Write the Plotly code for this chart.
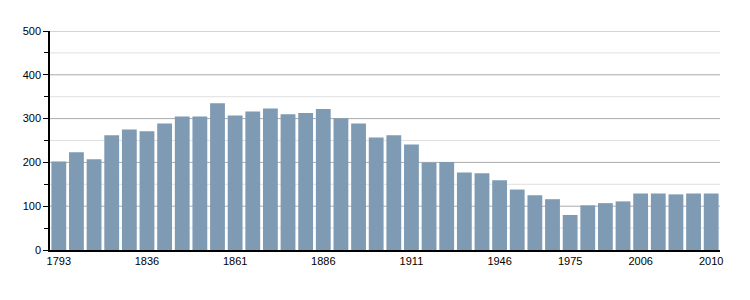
import plotly.graph_objects as go

years = [1793, 1800, 1806, 1821, 1831, 1836, 1841, 1846, 1851, 1856,
         1861, 1866, 1872, 1876, 1881, 1886, 1891, 1896, 1901, 1906,
         1911, 1921, 1926, 1931, 1936, 1946, 1954, 1962, 1968, 1975,
         1982, 1990, 1999, 2006, 2007, 2008, 2009, 2010]
population = [202, 223, 207, 262, 275, 271, 289, 305, 305, 335,
              307, 316, 323, 310, 313, 322, 301, 289, 257, 262,
              241, 200, 201, 177, 175, 159, 138, 125, 116, 80,
              102, 107, 111, 129, 129, 127, 129, 129]
labeled_years = [1793, 1836, 1861, 1886, 1911, 1946, 1975, 2006, 2010]
grid_major = [100, 200, 300, 400, 500]
grid_minor = [50, 150, 250, 350, 450]

xs = list(range(len(years)))
tickvals = [years.index(y) for y in labeled_years]
ticktext = [str(y) for y in labeled_years]

fig = go.Figure(go.Bar(x=xs, y=population, marker=dict(color="#7f9ab3", line=dict(width=0)),
                       hovertext=[str(y) for y in years]))

shapes = []
for g in grid_minor:
    shapes.append(dict(type="line", xref="paper", x0=0, x1=1, yref="y", y0=g, y1=g,
                       line=dict(color="#e0e0e0", width=1), layer="below"))
for g in grid_major:
    shapes.append(dict(type="line", xref="paper", x0=0, x1=1, yref="y", y0=g, y1=g,
                       line=dict(color="#aaaaaa", width=1), layer="below"))

fig.update_layout(
    width=750, height=300,
    margin=dict(l=50, r=30, t=31, b=50),
    plot_bgcolor="white", paper_bgcolor="white",
    font=dict(family="Liberation Sans, Arial, sans-serif", size=11, color="#000000"),
    bargap=0.16,
    showlegend=False,
    shapes=shapes,
)
fig.update_xaxes(
    range=[-0.5, len(years) - 0.5],
    tickmode="array", tickvals=tickvals, ticktext=ticktext,
    tickfont=dict(color="#000000"),
    showline=True, linecolor="black", linewidth=1.5,
    ticks="", showgrid=False, zeroline=False,
)
fig.update_yaxes(
    range=[0, 500], dtick=100, tick0=0,
    tickfont=dict(color="#000000"),
    showline=True, linecolor="black", linewidth=1.5,
    ticks="outside", ticklen=5, tickcolor="black",
    showgrid=False, zeroline=False,
    minor=dict(dtick=50, tick0=0, ticks="outside", ticklen=4, tickcolor="black",
               showgrid=False),
)

fig.write_html("out.html")
